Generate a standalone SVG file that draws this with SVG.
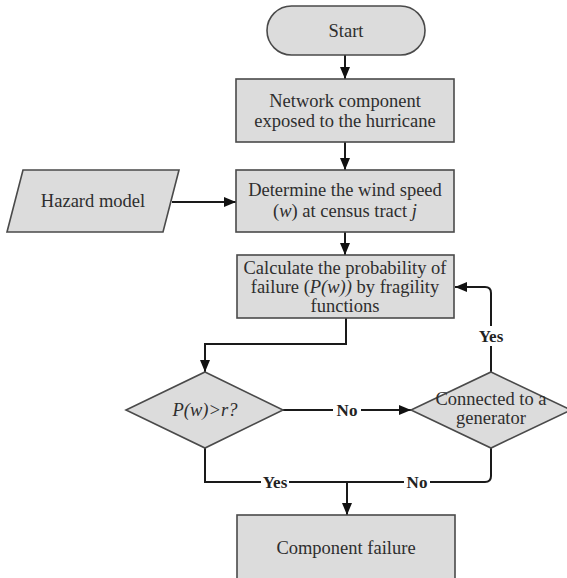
<svg xmlns="http://www.w3.org/2000/svg" width="567" height="578" viewBox="0 0 567 578">
  <defs>
    <marker id="arrow" viewBox="0 0 12 10" refX="12" refY="5" markerWidth="12" markerHeight="10" markerUnits="userSpaceOnUse" orient="auto">
      <path d="M0,0 L12,5 L0,10 Z" fill="#111"/>
    </marker>
    <style>
      .shape { fill: #dcdcdc; stroke: #4a4a4a; stroke-width: 1.6; }
      .txt { font-family: 'Liberation Serif', 'DejaVu Serif', serif; font-size: 18.5px; fill: #2e2e2e; text-anchor: middle; }
      .lbl { font-family: 'Liberation Serif', 'DejaVu Serif', serif; font-size: 17px; fill: #222; text-anchor: middle; font-weight: bold; }
      .line { fill: none; stroke: #1a1a1a; stroke-width: 2; }
      .gap { fill: #ffffff; }
    </style>
  </defs>
  <rect width="567" height="578" fill="#ffffff"/>

  <!-- connectors -->
  <g id="connectors">
    <path class="line" d="M345,55 V79" marker-end="url(#arrow)"/>
    <path class="line" d="M345,142 V170" marker-end="url(#arrow)"/>
    <path class="line" d="M172,202 H236" marker-end="url(#arrow)"/>
    <path class="line" d="M345,232 V255" marker-end="url(#arrow)"/>
    <path class="line" d="M346,318 V344 H205 V372" marker-end="url(#arrow)"/>
    <path class="line" d="M283,410 H411" marker-end="url(#arrow)"/>
    <path class="line" d="M491,372 V293 Q491,287 485,287 H455" marker-end="url(#arrow)"/>
    <path class="line" d="M205,448 V482 H347"/>
    <path class="line" d="M491,448 V476 Q491,482 485,482 H347"/>
    <path class="line" d="M347,482 V515" marker-end="url(#arrow)"/>
    <!-- edge labels -->
    <rect class="gap" x="333" y="400" width="28" height="20"/>
    <text class="lbl" x="347" y="416">No</text>
    <rect class="gap" x="475" y="326" width="32" height="20"/>
    <text class="lbl" x="491" y="342">Yes</text>
    <rect class="gap" x="261" y="472" width="28" height="20"/>
    <text class="lbl" x="275" y="488" font-weight="normal">Yes</text>
    <rect class="gap" x="404" y="472" width="26" height="20"/>
    <text class="lbl" x="417" y="488">No</text>
  </g>

  <g id="start">
    <rect class="shape" x="267" y="6" width="158" height="49" rx="24.5"/>
    <text class="txt" x="346" y="37">Start</text>
  </g>

  <g id="exposed">
    <rect class="shape" x="236" y="79" width="218" height="63"/>
    <text class="txt" x="345" y="107">Network component</text>
    <text class="txt" x="345" y="127">exposed to the hurricane</text>
  </g>

  <g id="hazard">
    <polygon class="shape" points="23,170 179,170 163,232 7,232"/>
    <text class="txt" x="93" y="207">Hazard model</text>
  </g>

  <g id="wind">
    <rect class="shape" x="236" y="170" width="218" height="62"/>
    <text class="txt" x="345" y="196">Determine the wind speed</text>
    <text class="txt" x="345" y="217">(<tspan font-style="italic">w</tspan>) at census tract <tspan font-style="italic">j</tspan></text>
  </g>

  <g id="probability">
    <rect class="shape" x="237" y="255" width="217" height="63"/>
    <text class="txt" x="345" y="274">Calculate the probability of</text>
    <text class="txt" x="345" y="293">failure (<tspan font-style="italic">P(w))</tspan> by fragility</text>
    <text class="txt" x="345" y="312">functions</text>
  </g>

  <g id="decision">
    <polygon class="shape" points="205,372 283,410 205,448 126,410"/>
    <text class="txt" x="205" y="416" font-style="italic">P(w)&gt;r?</text>
  </g>

  <g id="generator">
    <polygon class="shape" points="491,372 571,410 491,448 411,410"/>
    <text class="txt" x="491" y="405">Connected to a</text>
    <text class="txt" x="491" y="424">generator</text>
  </g>

  <g id="failure">
    <rect class="shape" x="237" y="515" width="218" height="70"/>
    <text class="txt" x="346" y="554">Component failure</text>
  </g>
</svg>
